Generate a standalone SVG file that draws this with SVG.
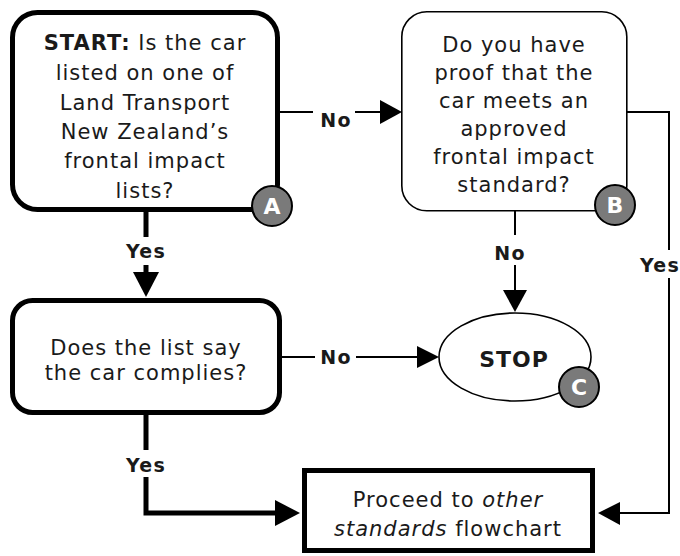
<svg xmlns="http://www.w3.org/2000/svg" width="680" height="556" viewBox="0 0 680 556">
<style>
.t{font-family:"DejaVu Sans",Verdana,sans-serif;font-size:21px;letter-spacing:1px;fill:#1a1a1a;text-anchor:middle}
.b{font-weight:bold}
.lbl{font-family:"DejaVu Sans",Verdana,sans-serif;font-size:19px;font-weight:bold;letter-spacing:1.2px;fill:#1a1a1a;text-anchor:middle}
.thick{fill:#fff;stroke:#000;stroke-width:5}
.thin{fill:#fff;stroke:#000;stroke-width:1.6}
.lt{fill:none;stroke:#000;stroke-width:2}
.lk{fill:none;stroke:#000;stroke-width:5}
.badge{fill:#7a7a7a;stroke:#000;stroke-width:2}
.bt{font-family:"DejaVu Sans",Verdana,sans-serif;font-size:22px;font-weight:bold;fill:#fff;text-anchor:middle}
.ah{fill:#000}
</style>
<g id="connectors">
  <!-- A to B (No) -->
  <path class="lt" d="M280,112 H313 M355,112 H382"/>
  <polygon class="ah" points="380,100 402,112 380,124"/>
  <text class="lbl" x="336" y="127">No</text>
  <!-- A to Box2 (Yes) -->
  <path class="lk" d="M146,212 V237 M146,265 V274"/>
  <polygon class="ah" points="133,272 159,272 146,297"/>
  <text class="lbl" x="146" y="258">Yes</text>
  <!-- B to STOP (No) -->
  <path class="lt" d="M515,211 V235 M515,265 V292"/>
  <polygon class="ah" points="503,290 527,290 515,312"/>
  <text class="lbl" x="510" y="260">No</text>
  <!-- B to final (Yes) -->
  <path class="lt" d="M627,112 H669 V250 M669,278 V513 H618"/>
  <polygon class="ah" points="620,502 598,513 620,525"/>
  <text class="lbl" x="660" y="272">Yes</text>
  <!-- Box2 to STOP (No) -->
  <path class="lt" d="M280,357 H315 M356,357 H419"/>
  <polygon class="ah" points="417,346 439,357 417,368"/>
  <text class="lbl" x="336" y="364">No</text>
  <!-- Box2 to final (Yes) -->
  <path class="lk" d="M146,413 V450 M146,477 V513 H277"/>
  <polygon class="ah" points="275,500 300,513 275,526"/>
  <text class="lbl" x="146" y="472">Yes</text>
</g>
<g id="nodeA">
  <rect class="thick" x="12.5" y="12.5" width="265" height="197" rx="25"/>
  <text class="t" x="145" y="50"><tspan class="b">START:</tspan> Is the car</text>
  <text class="t" x="145" y="80">listed on one of</text>
  <text class="t" x="145" y="110">Land Transport</text>
  <text class="t" x="145" y="139">New Zealand’s</text>
  <text class="t" x="145" y="168">frontal impact</text>
  <text class="t" x="145" y="198">lists?</text>
  <circle class="badge" cx="272" cy="206" r="20"/>
  <text class="bt" x="272" y="214">A</text>
</g>
<g id="nodeB">
  <rect class="thin" x="401.8" y="11.8" width="225" height="199" rx="25"/>
  <text class="t" x="514" y="52">Do you have</text>
  <text class="t" x="514" y="80">proof that the</text>
  <text class="t" x="514" y="108">car meets an</text>
  <text class="t" x="514" y="136">approved</text>
  <text class="t" x="514" y="164">frontal impact</text>
  <text class="t" x="514" y="192">standard?</text>
  <circle class="badge" cx="615" cy="205" r="20"/>
  <text class="bt" x="615" y="213">B</text>
</g>
<g id="nodeList">
  <rect class="thick" x="12.5" y="300.5" width="267" height="112" rx="20"/>
  <text class="t" x="146" y="355">Does the list say</text>
  <text class="t" x="146" y="380">the car complies?</text>
</g>
<g id="nodeStop">
  <ellipse class="thin" cx="515" cy="357" rx="76" ry="44"/>
  <text class="t b" x="514" y="367" style="font-size:22px">STOP</text>
  <circle class="badge" cx="579" cy="387" r="20"/>
  <text class="bt" x="579" y="395">C</text>
</g>
<g id="nodeFinal">
  <rect class="thick" x="304.5" y="470.5" width="288" height="80"/>
  <text class="t" x="448" y="507">Proceed to <tspan font-style="italic">other</tspan></text>
  <text class="t" x="448" y="536"><tspan font-style="italic">standards</tspan> flowchart</text>
</g>
</svg>
